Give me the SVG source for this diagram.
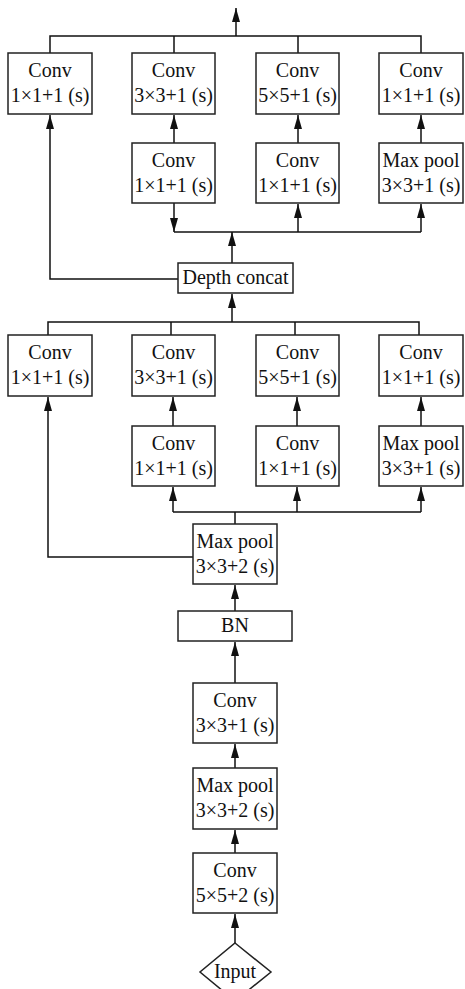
<svg xmlns="http://www.w3.org/2000/svg" width="465" height="989" viewBox="0 0 465 989">
<style>
.box{fill:#fff;stroke:#222;stroke-width:1.5}
.t{font-family:'Liberation Serif',serif;font-size:20px;fill:#111;text-anchor:middle}
.c{fill:none;stroke:#111;stroke-width:1.5}
.a{marker-end:url(#arr)}
</style>
<defs>
<marker id="arr" viewBox="0 0 14 8" refX="14" refY="4" markerWidth="14" markerHeight="8" markerUnits="userSpaceOnUse" orient="auto">
<path d="M0,0 L14,4 L0,8 z" fill="#111"/>
</marker>
</defs>
<rect width="465" height="989" fill="#fff"/>
<g id="connectors">
<path class="c a" d="M236,36 V8"/>
<path class="c" d="M50,53 V36 H421 V53 M174,36 V53 M298,36 V53"/>
<path class="c a" d="M174,143 V115"/>
<path class="c a" d="M298,143 V115"/>
<path class="c a" d="M421,143 V115"/>
<path class="c a" d="M174,203 V232"/>
<path class="c" d="M174,232 H421"/>
<path class="c a" d="M298,232 V204"/>
<path class="c a" d="M421,232 V204"/>
<path class="c a" d="M232,263 V232"/>
<path class="c a" d="M178,279 H50 V115"/>
<path class="c a" d="M232,322 V294"/>
<path class="c" d="M48,335 V322 H419 V335 M171,322 V335 M295,322 V335"/>
<path class="c a" d="M173,426 V397"/>
<path class="c a" d="M297,426 V397"/>
<path class="c a" d="M421,426 V397"/>
<path class="c" d="M173,512 H421 M235,524 V512"/>
<path class="c a" d="M173,512 V487"/>
<path class="c a" d="M297,512 V487"/>
<path class="c a" d="M421,512 V487"/>
<path class="c a" d="M193,557 H48 V397"/>
<path class="c a" d="M235,611 V585"/>
<path class="c a" d="M235,683 V642"/>
<path class="c a" d="M235,768 V744"/>
<path class="c a" d="M235,853 V830"/>
<path class="c a" d="M235,943 V914"/>
</g>
<g id="top-conv1">
<rect class="box" x="8" y="53" width="84" height="61"/>
<text class="t" x="50" y="77">Conv</text><text class="t" x="50" y="102">1×1+1 (s)</text>
</g>
<g id="top-conv3">
<rect class="box" x="132" y="53" width="83" height="61"/>
<text class="t" x="173.5" y="77">Conv</text><text class="t" x="173.5" y="102">3×3+1 (s)</text>
</g>
<g id="top-conv5">
<rect class="box" x="256" y="53" width="83" height="61"/>
<text class="t" x="297.5" y="77">Conv</text><text class="t" x="297.5" y="102">5×5+1 (s)</text>
</g>
<g id="top-conv1b">
<rect class="box" x="379" y="53" width="84" height="61"/>
<text class="t" x="421" y="77">Conv</text><text class="t" x="421" y="102">1×1+1 (s)</text>
</g>
<g id="top-red3">
<rect class="box" x="132" y="143" width="83" height="60"/>
<text class="t" x="173.5" y="167">Conv</text><text class="t" x="173.5" y="192">1×1+1 (s)</text>
</g>
<g id="top-red5">
<rect class="box" x="256" y="143" width="83" height="60"/>
<text class="t" x="297.5" y="167">Conv</text><text class="t" x="297.5" y="192">1×1+1 (s)</text>
</g>
<g id="top-pool">
<rect class="box" x="379" y="143" width="84" height="60"/>
<text class="t" x="421" y="167">Max pool</text><text class="t" x="421" y="192">3×3+1 (s)</text>
</g>
<g id="depth-concat">
<rect class="box" x="178" y="263" width="115" height="30"/>
<text class="t" x="235.5" y="284">Depth concat</text>
</g>
<g id="low-conv1">
<rect class="box" x="8" y="335" width="84" height="61"/>
<text class="t" x="50" y="359">Conv</text><text class="t" x="50" y="384">1×1+1 (s)</text>
</g>
<g id="low-conv3">
<rect class="box" x="132" y="335" width="83" height="61"/>
<text class="t" x="173.5" y="359">Conv</text><text class="t" x="173.5" y="384">3×3+1 (s)</text>
</g>
<g id="low-conv5">
<rect class="box" x="256" y="335" width="83" height="61"/>
<text class="t" x="297.5" y="359">Conv</text><text class="t" x="297.5" y="384">5×5+1 (s)</text>
</g>
<g id="low-conv1b">
<rect class="box" x="379" y="335" width="84" height="61"/>
<text class="t" x="421" y="359">Conv</text><text class="t" x="421" y="384">1×1+1 (s)</text>
</g>
<g id="low-red3">
<rect class="box" x="132" y="426" width="83" height="60"/>
<text class="t" x="173.5" y="450">Conv</text><text class="t" x="173.5" y="475">1×1+1 (s)</text>
</g>
<g id="low-red5">
<rect class="box" x="256" y="426" width="83" height="60"/>
<text class="t" x="297.5" y="450">Conv</text><text class="t" x="297.5" y="475">1×1+1 (s)</text>
</g>
<g id="low-pool">
<rect class="box" x="379" y="426" width="84" height="60"/>
<text class="t" x="421" y="450">Max pool</text><text class="t" x="421" y="475">3×3+1 (s)</text>
</g>
<g id="maxpool-a">
<rect class="box" x="193" y="524" width="84" height="60"/>
<text class="t" x="235" y="548">Max pool</text><text class="t" x="235" y="573">3×3+2 (s)</text>
</g>
<g id="bn">
<rect class="box" x="178" y="611" width="114" height="30"/>
<text class="t" x="235" y="632">BN</text>
</g>
<g id="conv-3x3">
<rect class="box" x="193" y="683" width="84" height="60"/>
<text class="t" x="235" y="707">Conv</text><text class="t" x="235" y="732">3×3+1 (s)</text>
</g>
<g id="maxpool-b">
<rect class="box" x="193" y="768" width="84" height="61"/>
<text class="t" x="235" y="792">Max pool</text><text class="t" x="235" y="817">3×3+2 (s)</text>
</g>
<g id="conv-5x5">
<rect class="box" x="193" y="853" width="84" height="60"/>
<text class="t" x="235" y="877">Conv</text><text class="t" x="235" y="902">5×5+2 (s)</text>
</g>
<g id="input">
<path class="box" d="M235,943 L271,972 L235,1001 L200,972 Z"/>
<text class="t" x="235" y="978">Input</text>
</g>
</svg>
